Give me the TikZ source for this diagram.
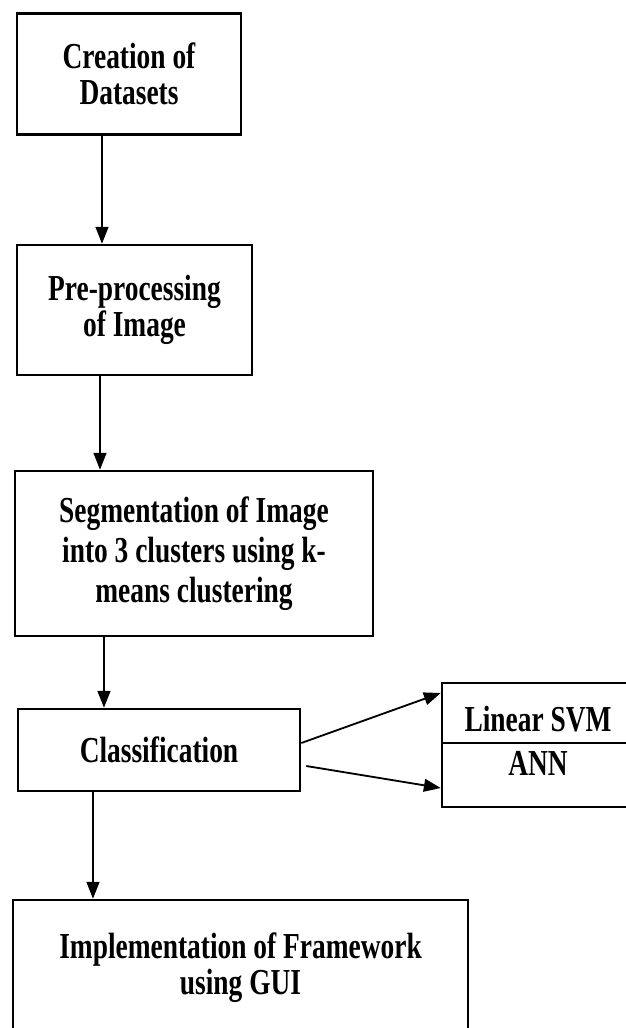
\documentclass[tikz,border=0pt]{standalone}
\usepackage{fontspec}
\setmainfont{Liberation Serif}[FakeStretch=0.75]
\usepackage{tikz}
\usetikzlibrary{arrows.meta}

\begin{document}
\begin{tikzpicture}
	[x=0.025cm, y=-0.025cm,
	box/.style ={rectangle, draw=black, line width=1.8pt, align=center, inner sep=0pt, font=\bfseries\fontsize{26}{25.5}\selectfont},
	line/.style ={draw, line width=1.3pt, -{Triangle[length=0.42cm, width=0.32cm]}}]
	\useasboundingbox (0,0) rectangle (626,1028);
	\draw (129, 74) node[box, minimum width=5.6cm, minimum height=3.025cm] (data) {Creation of\\Datasets};
	\draw (134.5, 310) node[box, minimum width=5.875cm, minimum height=3.25cm] (prep) {Pre-processing\\of Image};
	\draw (194, 553.5) node[box, minimum width=8.95cm, minimum height=4.125cm, font=\bfseries\fontsize{26}{28.5}\selectfont] (seg) {Segmentation of Image\\into 3 clusters using k-\\means clustering};
	\draw (159, 750) node[box, minimum width=7.05cm, minimum height=2.05cm] (cls) {Classification};
	\draw (538, 713) node[box, minimum width=4.8cm, minimum height=1.5cm, text height=0.93cm] (svm) {Linear SVM};
	\draw (538, 775) node[box, minimum width=4.8cm, minimum height=1.6cm, text depth=0.6cm] (ann) {ANN};
	\draw (240.5, 968) node[box, minimum width=11.375cm, minimum height=3.4cm] (gui) {Implementation of Framework\\using GUI};
	% flow
	\draw[line] ([xshift=-0.675cm]data.south) -- ([xshift=-0.675cm]data.south |- prep.north);
	\draw[line] ([xshift=-0.8625cm]prep.south) -- ([xshift=-0.8625cm]prep.south |- seg.north);
	\draw[line] ([xshift=-2.25cm]seg.south) -- ([xshift=-2.25cm]seg.south |- cls.north);
	\draw[line] ([xshift=-1.65cm]cls.south) -- ([xshift=-1.65cm]cls.south |- gui.north);
	\draw[line] ([yshift=0.175cm]cls.east) -- ([yshift=0.5cm]svm.west);
	\draw[line] ([xshift=0.125cm, yshift=-0.4cm]cls.east) -- ([yshift=-0.325cm]ann.west);
\end{tikzpicture}
\end{document}
